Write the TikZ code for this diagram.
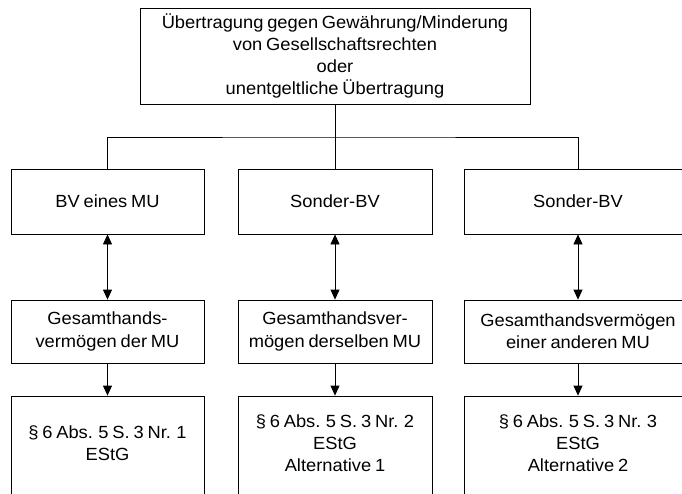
\documentclass[tikz,border=0pt]{standalone}
\usepackage{fontspec}
\setmainfont{Liberation Sans}[FakeStretch=1.04, WordSpace=0.75]
\usetikzlibrary{arrows.meta}
\begin{document}
\begin{tikzpicture}[x=1pt,y=-1pt,
  txt/.style={align=center, font=\fontsize{17.6pt}{22.3pt}\selectfont},
  box/.style={draw, line width=0.8pt, inner sep=0pt, txt},
  wire/.style={line width=0.8pt},
  tip/.style={line width=0.8pt, -{Triangle[length=10pt,width=9pt]}},
  both/.style={line width=0.8pt, {Triangle[length=10pt,width=9pt]}-{Triangle[length=10pt,width=9pt]}}]
\useasboundingbox (0,0) rectangle (682,493);
\clip (0,0) rectangle (682,493);

% top box
\node[box, minimum width=390pt, minimum height=96pt] (top) at (335,56)
  {Übertragung gegen Gewährung/Minderung\\von Gesellschaftsrechten\\oder\\unentgeltliche Übertragung};

% first row
\node[box, minimum width=193pt, minimum height=65pt] (a1) at (107.5,201.5) {BV eines MU};
\node[box, minimum width=194pt, minimum height=65pt] (b1) at (335,201.5) {Sonder-BV};
\node[box, minimum width=228pt, minimum height=65pt] (c1) at (578,201.5) {Sonder-BV};

% second row
\node[box, minimum width=193pt, minimum height=63pt] (a2) at (107.5,331.5) {Gesamthands-\\vermögen der MU};
\node[box, minimum width=194pt, minimum height=63pt] (b2) at (335,331.5) {Gesamthandsver-\\mögen derselben MU};
\node[box, minimum width=228pt, minimum height=63pt] (c2) at (578,331.5) {Gesamthandsvermögen\\einer anderen MU};

% third row (runs past the lower edge)
\node[box, minimum width=193pt, minimum height=114pt,
  label={[txt, yshift=10pt]center:{§ 6 Abs. 5 S. 3 Nr. 1\\EStG}}] (a3) at (107.5,453) {};
\node[box, minimum width=194pt, minimum height=114pt,
  label={[txt, yshift=10pt]center:{§ 6 Abs. 5 S. 3 Nr. 2\\EStG\\Alternative 1}}] (b3) at (335,453) {};
\node[box, minimum width=228pt, minimum height=114pt,
  label={[txt, yshift=10pt]center:{§ 6 Abs. 5 S. 3 Nr. 3\\EStG\\Alternative 2}}] (c3) at (578,453) {};

% branching from the top box
\coordinate (bus) at (335,137);
\draw[wire] (top.south) -- (b1.north);
\draw[wire] (a1.north) |- (bus) -| (c1.north);

% arrows between rows
\draw[both] (a1.south) -- (a2.north);
\draw[both] (b1.south) -- (b2.north);
\draw[both] (c1.south) -- (c2.north);
\draw[tip] (a2.south) -- (a3.north);
\draw[tip] (b2.south) -- (b3.north);
\draw[tip] (c2.south) -- (c3.north);
\end{tikzpicture}
\end{document}
